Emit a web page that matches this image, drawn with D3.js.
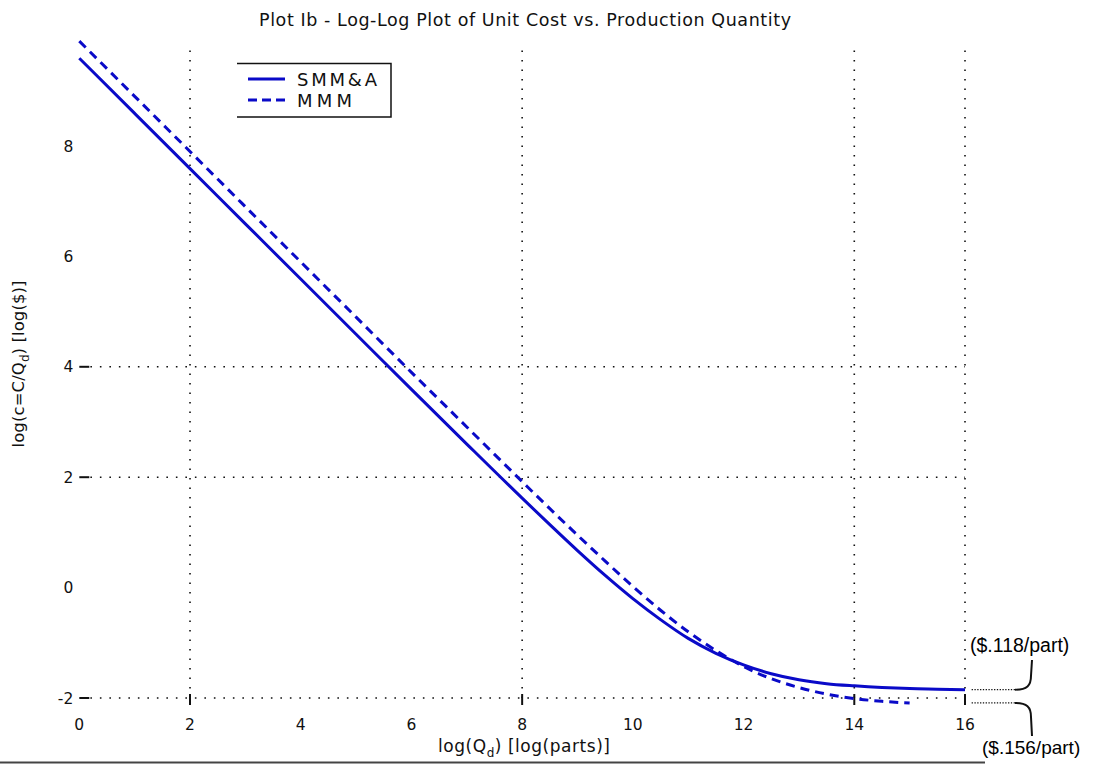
<!DOCTYPE html>
<html>
<head>
<meta charset="utf-8">
<script src="https://cdn.jsdelivr.net/npm/d3@7"></script>
<style>
  html, body { margin: 0; padding: 0; background: #fff; }
  svg { display: block; font-family: "DejaVu Sans", Verdana, sans-serif; }
</style>
</head>
<body>
<svg id="chart" width="1096" height="764"></svg>
<script>
// log(Q_d) sample positions and log unit cost for each process
const qLog = [0, 1, 2, 3, 4, 5, 6, 7, 8, 8.5, 9, 9.5, 10, 10.5, 11, 11.5, 12, 12.5, 13, 13.5, 14, 14.5, 15, 15.5, 16];
const smmaCost = [9.59, 8.59, 7.59, 6.59, 5.59, 4.59, 3.59, 2.60, 1.62, 1.14, 0.67, 0.22, -0.20, -0.58, -0.92, -1.19, -1.40, -1.56, -1.67, -1.74, -1.78, -1.81, -1.83, -1.84, -1.85];
const mmmQLog = [0, 1, 2, 3, 4, 5, 6, 7, 8, 8.5, 9, 9.5, 10, 10.5, 11, 11.5, 12, 12.5, 13, 13.5, 14, 14.5, 15];
const mmmCost = [9.90, 8.90, 7.90, 6.90, 5.90, 4.90, 3.90, 2.91, 1.92, 1.43, 0.95, 0.48, 0.02, -0.41, -0.80, -1.14, -1.43, -1.65, -1.81, -1.93, -2.01, -2.06, -2.09];

const seriesNames = ["SMM&A", "MMM"];
const xTickValues = [0, 2, 4, 6, 8, 10, 12, 14, 16];
const yTickValues = [-2, 0, 2, 4, 6, 8];
const xGridValues = [2, 8, 14, 16];
const yGridValues = [-2, 2, 4];
const priceNotes = ["($.118/part)", "($.156/part)"];

const svg = d3.select("#chart");
const blue = "#0a0ac8";
const ink = "#111";

const x = d3.scaleLinear().domain([0, 16]).range([79.3, 965]);
const y = d3.scaleLinear().domain([-2, 10]).range([698, 35.6]);

// dotted grid lines
const grid = svg.append("g").attr("stroke", ink).attr("stroke-width", 1.6)
  .attr("stroke-dasharray", "1.6,7.9").attr("fill", "none");
grid.selectAll("line.gx").data(xGridValues).join("line")
  .attr("x1", d => x(d)).attr("x2", d => x(d))
  .attr("y1", y(-2)).attr("y2", y(9.8));
grid.selectAll("line.gy").data(yGridValues).join("line")
  .attr("y1", d => y(d)).attr("y2", d => y(d))
  .attr("x1", x(0.2)).attr("x2", x(16));

// tick marks
const ticks = svg.append("g").attr("stroke", ink).attr("stroke-width", 2);
ticks.selectAll("line.ty").data(yGridValues).join("line")
  .attr("x1", x(0)).attr("x2", x(0) + 10)
  .attr("y1", d => y(d)).attr("y2", d => y(d));
ticks.selectAll("line.tx").data(xGridValues).join("line")
  .attr("x1", d => x(d)).attr("x2", d => x(d))
  .attr("y1", y(-2) - 4).attr("y2", y(-2) + 7);

// tick labels
svg.append("g").attr("font-size", 15.5).attr("fill", ink).attr("text-anchor", "end")
  .selectAll("text").data(yTickValues).join("text")
  .attr("x", x(0) - 6).attr("y", d => y(d)).attr("dy", "0.36em")
  .text(d => d);
svg.append("g").attr("font-size", 15.5).attr("fill", ink).attr("text-anchor", "middle")
  .selectAll("text").data(xTickValues).join("text")
  .attr("x", d => x(d)).attr("y", y(-2) + 32)
  .text(d => d);

// cost curves
const line = d3.line().x(d => x(d[0])).y(d => y(d[1])).curve(d3.curveMonotoneX);
const smma = qLog.map((q, i) => [q, smmaCost[i]]);
const mmm = mmmQLog.map((q, i) => [q, mmmCost[i]]);

svg.append("path").datum(smma).attr("d", line)
  .attr("fill", "none").attr("stroke", blue).attr("stroke-width", 3);
svg.append("path").datum(mmm).attr("d", line)
  .attr("fill", "none").attr("stroke", blue).attr("stroke-width", 3)
  .attr("stroke-dasharray", "9,6");

// title
svg.append("text").attr("x", 525).attr("y", 26).attr("text-anchor", "middle")
  .attr("font-size", 17.5).attr("fill", ink)
  .attr("textLength", 532).attr("lengthAdjust", "spacing")
  .text("Plot Ib - Log-Log Plot of Unit Cost vs. Production Quantity");

// x axis label
const xl = svg.append("text").attr("x", 524).attr("y", 752).attr("text-anchor", "middle")
  .attr("font-size", 17).attr("fill", ink)
  .attr("textLength", 172).attr("lengthAdjust", "spacing");
xl.append("tspan").text("log(Q");
xl.append("tspan").attr("font-size", 12).attr("dy", 5).text("d");
xl.append("tspan").attr("dy", -5).text(") [log(parts)]");

// y axis label
const yl = svg.append("text").attr("transform", "translate(24,364) rotate(-90)")
  .attr("text-anchor", "middle").attr("font-size", 16.5).attr("fill", ink)
  .attr("textLength", 167).attr("lengthAdjust", "spacing");
yl.append("tspan").text("log(c=C/Q");
yl.append("tspan").attr("font-size", 12).attr("dy", 5).text("d");
yl.append("tspan").attr("dy", -5).text(") [log($)]");

// legend
const lg = svg.append("g");
lg.append("path").attr("d", "M237,63.5 H391 V117 H237")
  .attr("fill", "none").attr("stroke", ink).attr("stroke-width", 1.5);
const legendRows = [{ name: seriesNames[0], dash: null, w: 80 }, { name: seriesNames[1], dash: "9,5", w: 55 }];
legendRows.forEach((r, i) => {
  const cy = 79 + i * 21;
  lg.append("line").attr("x1", 248).attr("x2", 285).attr("y1", cy).attr("y2", cy)
    .attr("stroke", blue).attr("stroke-width", 3)
    .attr("stroke-dasharray", r.dash);
  lg.append("text").attr("x", 297).attr("y", cy + 6.5).attr("font-size", 18).attr("fill", ink)
    .attr("textLength", r.w).attr("lengthAdjust", "spacing").text(r.name);
});

// price notes at the end of each curve
const ends = [smma[smma.length - 1][1], mmm[mmm.length - 1][1]];
const notes = svg.append("g");
ends.forEach((v, i) => {
  const yy = y(v);
  notes.append("line").attr("x1", x(16.12)).attr("x2", 1015).attr("y1", yy).attr("y2", yy)
    .attr("stroke", ink).attr("stroke-width", 1.3).attr("stroke-dasharray", "1.3,1.5");
  const dir = i === 0 ? -1 : 1;
  const end = i === 0 ? 660 : 736;
  notes.append("path")
    .attr("d", `M1015,${yy} C1027,${yy} 1031,${yy + dir * 4} 1031,${yy + dir * 14} L1032,${end}`)
    .attr("fill", "none").attr("stroke", ink).attr("stroke-width", 2);
});
notes.append("text").attr("x", 970).attr("y", 652).attr("font-size", 19.5)
  .attr("font-family", "'Liberation Sans', Arial, sans-serif").attr("fill", "#000")
  .text(priceNotes[0]);
notes.append("text").attr("x", 982).attr("y", 754).attr("font-size", 19)
  .attr("font-family", "'Liberation Sans', Arial, sans-serif").attr("fill", "#000")
  .text(priceNotes[1]);

// bottom rule
svg.append("line").attr("x1", 0).attr("x2", 985).attr("y1", 762.5).attr("y2", 762.5)
  .attr("stroke", "#444").attr("stroke-width", 2);
</script>
</body>
</html>
